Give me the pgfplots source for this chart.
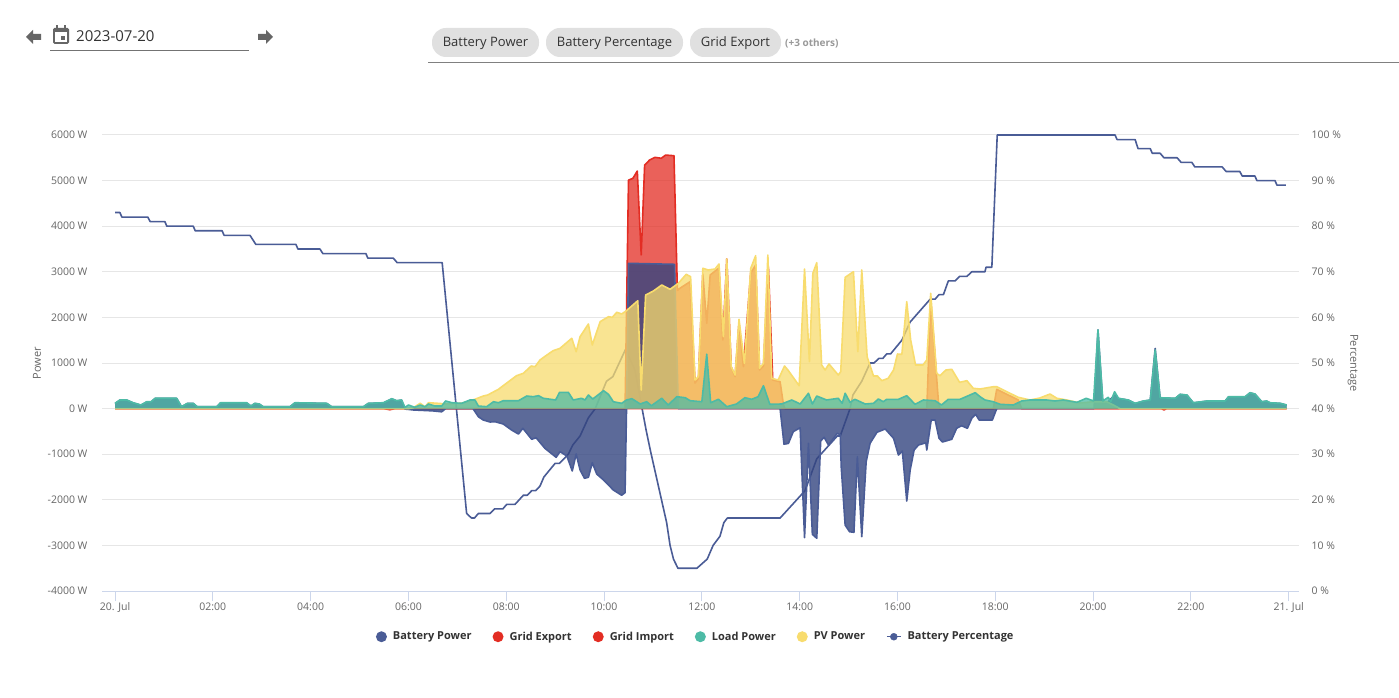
\documentclass[border=0pt]{standalone}
\usepackage{fontspec}
\setmainfont{Open Sans}
\usepackage{pgfplots}
\usepackage{pgfplotstable}
\pgfplotsset{compat=1.18}
\definecolor{cbatline}{HTML}{4A5C96}
\definecolor{cbatfill}{HTML}{344580}
\definecolor{cred}{HTML}{E32D23}
\definecolor{cload}{HTML}{4DBBA6}
\definecolor{cpv}{HTML}{F8DC6E}
\definecolor{cgrid}{HTML}{E6E6E6}
\definecolor{caxis}{HTML}{CCD6EB}
\definecolor{clabel}{HTML}{666666}
\definecolor{clegend}{HTML}{333333}
\definecolor{cchip}{HTML}{E0E0E0}

% battery percentage, hours / %
\pgfplotstableread{
h p
0 83
0.10 83
0.14 82
0.67 82
0.72 81
1.02 81
1.06 80
1.60 80
1.64 79
2.19 79
2.23 78
2.76 78
2.88 76
3.70 76
3.74 75
4.19 75
4.25 74
5.13 74
5.17 73
5.69 73
5.77 72
6.69 72
7.19 17
7.29 16
7.35 16
7.43 17
7.67 17
7.76 18
7.93 18
8.01 19
8.18 19
8.35 21
8.43 21
8.52 22
8.60 22
8.69 23
8.77 25
9.00 28
9.09 28
9.27 30
9.36 32
9.51 34
9.68 38
9.82 40
10.05 46
10.18 47
10.44 53
10.63 48.5
10.86 35.3
10.95 30.7
11.28 15
11.35 10
11.42 7
11.51 5
11.90 5
12.11 7
12.23 10
12.37 12
12.45 15
12.52 16
13.60 16
14.11 22
14.35 29
14.77 34
14.83 34
15.03 40
15.09 43
15.27 46
15.44 50
15.52 50
15.62 51
15.70 51
15.78 52
15.86 52
16.09 55
16.26 59
16.67 64
16.77 64
16.85 65
16.94 65
17.04 68
17.18 68
17.27 69
17.42 69
17.52 70
17.79 70
17.81 71
17.93 71
18.04 100
20.45 100
20.49 99
20.86 99
20.92 97
21.17 97
21.21 96
21.37 96
21.45 95
21.72 95
21.80 94
22.02 94
22.08 93
22.64 93
22.72 92
23.00 92
23.05 91
23.31 91
23.35 90
23.72 90
23.76 89
23.94 89
}\percentdata

% battery power, hours / W
\pgfplotstableread{
h w
0 110
0.10 185
0.24 185
0.37 125
0.53 75
0.65 148
0.74 148
0.82 222
1.26 222
1.36 40
1.48 112
1.60 112
1.68 40
2.08 40
2.16 125
2.69 125
2.78 55
2.86 112
2.95 98
3.03 40
3.58 40
3.68 125
4.33 112
4.43 40
5.08 40
5.18 112
5.49 125
5.66 212
5.76 170
5.86 185
5.93 -10
6.10 -30
6.50 -50
6.68 -70
6.76 0
7.32 0
7.43 -178
7.53 -250
7.67 -294
7.77 -287
7.94 -338
8.11 -470
8.25 -557
8.34 -432
8.52 -673
8.61 -638
8.79 -870
9.02 -1068
9.10 -945
9.24 -1040
9.35 -1368
9.43 -995
9.51 -1346
9.60 -1528
9.68 -1507
9.76 -1186
9.85 -1434
9.99 -1566
10.19 -1785
10.36 -1900
10.43 -1844
10.46 0
10.50 3186
11.44 3164
11.52 0
13.60 0
13.68 -780
13.77 -763
13.87 -505
14.01 -420
14.10 -2831
14.18 -761
14.26 -2757
14.35 -2844
14.43 -711
14.50 -629
14.59 -798
14.77 -542
14.83 -575
14.85 -1274
14.93 -2553
15.02 -2700
15.11 -2713
15.18 -1055
15.27 -2809
15.36 -1164
15.44 -761
15.58 -520
15.75 -447
15.92 -651
16.02 -1018
16.10 -930
16.19 -2026
16.26 -1346
16.34 -908
16.43 -798
16.58 -750
16.60 -908
16.69 -250
16.77 -250
16.85 -651
16.92 -732
17.11 -673
17.21 -432
17.31 -375
17.43 -432
17.52 -213
17.60 -125
17.67 -250
17.94 -250
18.03 0
20.02 0
20.10 1724
20.20 100
20.31 150
20.44 300
20.52 222
20.72 185
20.86 112
21.03 163
21.17 185
21.27 1320
21.37 235
21.68 222
21.78 310
21.92 294
22.05 125
22.33 163
22.70 163
22.77 257
23.11 257
23.21 345
23.31 316
23.45 148
23.55 163
23.62 125
23.83 112
23.96 75
}\batterydata

\pgfplotstableread{
h w
0 0
10.43 0
10.50 5010
10.59 5050
10.68 5210
10.76 3370
10.83 5340
10.93 5450
11.04 5510
11.17 5490
11.26 5560
11.43 5546
11.50 2590
11.55 2638
11.76 2783
11.86 560
11.93 660
12.02 2950
12.10 1870
12.17 2930
12.35 3083
12.43 1504
12.51 3281
12.60 912
12.68 700
12.76 1877
12.85 919
13.00 2974
13.10 3149
13.18 846
13.26 934
13.36 3112
13.45 627
13.60 590
13.67 79
13.70 0
16.60 0
16.68 2382
16.84 123
16.87 0
17.96 0
18.03 423
18.47 189
18.54 0
23.96 0
}\exportdata

\pgfplotstableread{
h w
0 0
5.50 0
5.62 -25
5.72 0
19.70 0
21.40 0
21.45 -30
21.50 0
23.96 0
}\importdata

\pgfplotstableread{
h w
0 116
0.10 189
0.24 189
0.37 129
0.53 79
0.65 151
0.74 151
0.82 226
1.26 226
1.36 42
1.48 116
1.60 116
1.68 42
2.08 42
2.16 129
2.69 129
2.78 57
2.86 116
2.95 101
3.03 42
3.58 42
3.68 129
4.33 116
4.43 42
5.08 42
5.18 116
5.49 129
5.66 217
5.76 173
5.86 189
5.93 24
6.00 79
6.13 29
6.24 79
6.34 40
6.41 101
6.54 57
6.68 57
6.76 167
6.89 129
7.09 116
7.26 189
7.36 189
7.43 57
7.60 42
7.74 151
7.84 129
7.94 173
8.25 173
8.42 276
8.55 261
8.66 283
8.76 226
9.01 189
9.09 357
9.27 357
9.37 189
9.54 226
9.61 189
9.68 298
9.77 211
9.99 393
10.09 314
10.19 151
10.36 116
10.46 189
10.57 217
10.74 101
10.87 151
10.97 64
11.18 226
11.31 79
11.49 261
11.66 239
11.76 173
12.00 151
12.10 1191
12.18 129
12.34 204
12.51 42
12.71 101
12.88 239
13.02 204
13.15 261
13.26 502
13.39 94
13.63 101
13.84 189
14.01 101
14.18 336
14.26 101
14.35 276
14.55 189
14.79 226
14.87 116
14.93 336
15.03 138
15.13 204
15.34 101
15.51 116
15.61 211
15.71 151
15.78 204
16.02 204
16.19 283
16.36 94
16.53 189
16.77 173
16.90 79
17.04 204
17.28 204
17.59 349
17.69 261
17.79 189
17.96 151
18.10 94
18.37 79
18.54 167
18.71 189
19.05 189
19.22 167
19.39 189
19.67 138
19.86 226
20.01 167
20.10 1724
20.20 167
20.31 248
20.36 151
20.44 371
20.52 226
20.72 189
20.86 116
21.03 167
21.17 189
21.27 1285
21.37 239
21.68 226
21.78 314
21.92 298
22.05 129
22.33 167
22.70 167
22.77 261
23.11 261
23.21 349
23.31 320
23.45 151
23.55 167
23.62 129
23.83 116
23.96 79
}\loaddata

\pgfplotstableread{
h w
0 0
6.00 0
6.10 20
6.24 116
6.34 40
6.41 130
6.68 110
6.76 100
7.09 120
7.36 204
7.53 276
7.62 298
7.84 423
8.21 721
8.35 774
8.51 934
8.59 919
8.69 1066
8.83 1175
8.96 1270
9.10 1322
9.34 1542
9.43 1248
9.51 1577
9.68 1855
9.76 1395
9.92 1906
10.09 2015
10.17 2002
10.26 2112
10.36 2075
10.45 2140
10.69 2366
10.76 408
10.85 2491
11.01 2579
11.18 2711
11.35 2616
11.52 2748
11.68 2945
11.77 2893
11.86 627
11.93 700
12.02 3077
12.13 3040
12.27 3062
12.35 3171
12.44 1577
12.51 3281
12.60 919
12.68 737
12.76 1958
12.87 993
13.00 3077
13.10 3353
13.18 884
13.26 993
13.35 3368
13.43 664
13.56 627
13.69 934
13.76 847
13.99 502
14.10 3061
14.20 1029
14.27 2967
14.35 3200
14.45 956
14.52 847
14.60 978
14.79 737
14.84 809
14.93 2879
15.10 3002
15.19 1248
15.27 3040
15.38 1138
15.51 715
15.59 715
15.68 612
15.81 664
15.92 846
16.00 1197
16.09 1191
16.19 2344
16.27 1504
16.37 956
16.52 956
16.60 1066
16.68 2528
16.80 774
16.87 721
16.99 846
17.11 862
17.27 577
17.42 612
17.55 445
17.69 430
17.96 480
18.03 480
18.30 336
18.47 248
18.71 189
18.91 232
19.12 320
19.26 226
19.46 189
19.73 123
20.00 151
20.28 151
20.48 42
20.55 0
23.96 0
}\pvdata

\pgfplotsset{
  chart/.style={
    scale only axis, width=1197pt, height=456pt,
    at={(102pt,106pt)}, anchor=south west,
    xmin=-0.266, xmax=24.211,
  },
  round key/.style={legend image code/.code={\fill[##1, draw=none] (0pt,0pt) circle[radius=5.5pt];}},
  percent key/.style={legend image code/.code={
    \draw[##1, line width=1.5pt] (-7pt,0pt) -- (7pt,0pt);
    \fill[##1] (0pt,0pt) circle[radius=3.5pt];}},
}
\newcommand{\areaseries}[4]{% table, fill colour, line colour, fill opacity
  \addplot[draw=none, fill=#2, fill opacity=#4, forget plot] table[x=h, y=w] {#1} \closedcycle;
  \addplot[#3, line width=1.6pt, line join=round, forget plot] table[x=h, y=w] {#1};
}

\begin{document}
\begin{tikzpicture}
\path[use as bounding box, fill=white] (0pt,0pt) rectangle (1399pt,697pt);

% right axis: grid and battery percentage sit below the areas
\begin{axis}[
  chart,
  ymin=0, ymax=100,
  ytick={0,10,...,100},
  yticklabels={0 \%,10 \%,20 \%,30 \%,40 \%,50 \%,60 \%,70 \%,80 \%,90 \%,100 \%},
  axis x line=none,
  axis y line*=right,
  y axis line style={draw=none},
  ytick style={draw=none},
  major tick length=0pt,
  ymajorgrids,
  grid style={cgrid, line width=1pt},
  y tick label style={font=\fontsize{10.5}{12}\selectfont, text=clabel, xshift=9pt},
  ylabel={Percentage},
  ylabel style={font=\fontsize{11}{13}\selectfont, text=clabel, rotate=180, at={(axis description cs:1.045,0.5)}, anchor=center},
]
\addplot[cbatline, line width=1.6pt, line join=round] table[x=h, y=p] {\percentdata};
\end{axis}

% left axis: power areas
\begin{axis}[
  chart,
  ymin=-4000, ymax=6000,
  ytick={-4000,-3000,...,6000},
  yticklabels={-4000 W,-3000 W,-2000 W,-1000 W,0 W,1000 W,2000 W,3000 W,4000 W,5000 W,6000 W},
  axis x line*=bottom,
  axis y line*=left,
  y axis line style={draw=none},
  x axis line style={draw=caxis, line width=1pt, -},
  ytick style={draw=none},
  xtick style={draw=caxis, line width=1pt},
  tick align=outside,
  major tick length=10pt,
  xtick={0,2,...,24},
  xticklabels={20. Jul,02:00,04:00,06:00,08:00,10:00,12:00,14:00,16:00,18:00,20:00,22:00,21. Jul},
  x tick label style={font=\fontsize{10.5}{12}\selectfont, text=clabel, yshift=2pt},
  y tick label style={font=\fontsize{10.5}{12}\selectfont, text=clabel, xshift=-1pt},
  ylabel={Power},
  ylabel style={font=\fontsize{11}{13}\selectfont, text=clabel, at={(axis description cs:-0.0543,0.5)}, anchor=center},
  legend columns=6,
  legend cell align=left,
  legend style={
    at={(axis description cs:0.496,-0.1003)}, anchor=center,
    draw=none, fill=none, inner sep=0pt,
    font=\bfseries\fontsize{11}{13}\selectfont, text=clegend,
    /tikz/every even column/.append style={column sep=19pt},
    /tikz/every odd column/.append style={column sep=4pt},
  },
]
\areaseries{\exportdata}{cred}{cred}{0.75}
\areaseries{\importdata}{cred}{cred}{0.75}
\areaseries{\batterydata}{cbatfill}{cbatline}{0.8}
\areaseries{\pvdata}{cpv}{cpv}{0.75}
\areaseries{\loaddata}{cload}{cload}{0.75}
\addlegendimage{round key, fill=cbatline}
\addlegendimage{round key, fill=cred}
\addlegendimage{round key, fill=cred}
\addlegendimage{round key, fill=cload}
\addlegendimage{round key, fill=cpv}
\addlegendimage{percent key, cbatline}
\legend{Battery Power,Grid Export,Grid Import,Load Power,PV Power,Battery Percentage}
\end{axis}

% page controls above the chart
\begin{scope}[x=1pt, y=1pt, shift={(0pt,697pt)}]
  \fill[clabel] (26,-37) -- (33,-30) -- (33,-34) -- (41,-34) -- (41,-40) -- (33,-40) -- (33,-44) -- cycle;
  \fill[clabel] (273,-37) -- (266,-30) -- (266,-34) -- (258,-34) -- (258,-40) -- (266,-40) -- (266,-44) -- cycle;
  \fill[clabel, rounded corners=1.5pt] (53,-28) rectangle (69,-44);
  \fill[white] (55,-32.5) rectangle (67,-42);
  \fill[clabel] (56,-25) rectangle (58,-29);
  \fill[clabel] (64,-25) rectangle (66,-29);
  \fill[clabel] (61,-36) rectangle (65,-40);
  \node[anchor=west, inner sep=0pt, font=\fontsize{15}{18}\selectfont, text=clegend] at (76,-36) {2023-07-20};
  \draw[black!55, line width=0.9pt] (50,-50.5) -- (249,-50.5);
  \fill[cchip, rounded corners=14pt] (432,-28) rectangle (539,-57);
  \fill[cchip, rounded corners=14pt] (546,-28) rectangle (683,-57);
  \fill[cchip, rounded corners=14pt] (690,-28) rectangle (781,-57);
  \node[inner sep=0pt, font=\fontsize{13}{15}\selectfont, text=clegend] at (485.5,-43.5) {Battery Power};
  \node[inner sep=0pt, font=\fontsize{13}{15}\selectfont, text=clegend] at (614.5,-43.5) {Battery Percentage};
  \node[inner sep=0pt, font=\fontsize{13}{15}\selectfont, text=clegend] at (735.5,-43.5) {Grid Export};
  \node[anchor=west, inner sep=0pt, font=\bfseries\fontsize{10}{12}\selectfont, text=black!40] at (785,-43) {(+3 others)};
  \draw[black!50, line width=0.9pt] (428,-62.5) -- (1399,-62.5);
\end{scope}
\end{tikzpicture}
\end{document}
